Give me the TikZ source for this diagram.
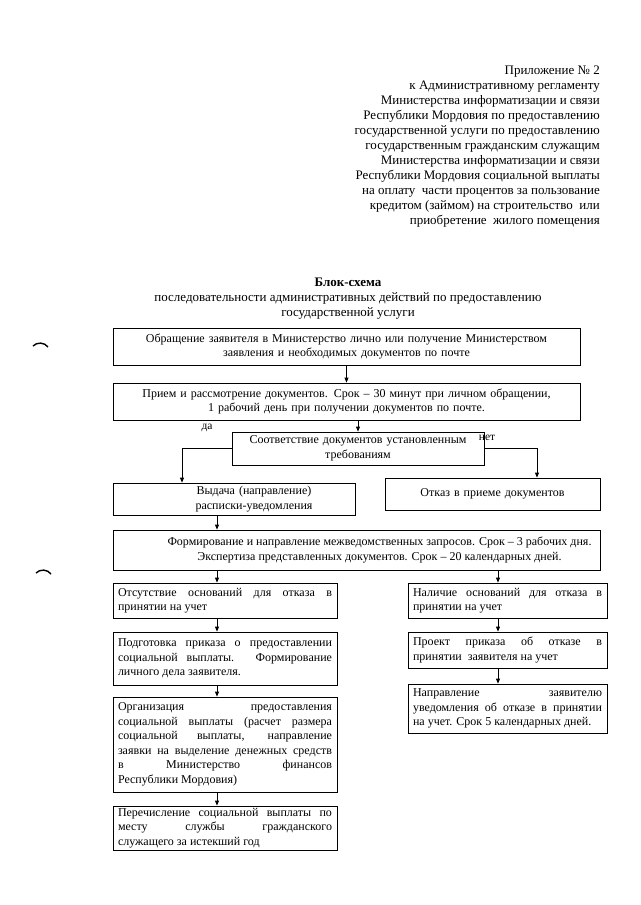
\documentclass[tikz,border=0pt]{standalone}
\usepackage{fontspec}
\setmainfont{Liberation Serif}
\usetikzlibrary{arrows.meta}
\hyphenpenalty=10000
\exhyphenpenalty=10000
\tikzset{
	blok/.style={draw, line width=0.8pt, inner xsep=5pt, inner ysep=2pt,
		font=\fontsize{12}{14.5}\selectfont},
	strelka/.style={line width=0.8pt, -{Triangle[length=5pt,width=4pt]}},
	liniya/.style={line width=0.8pt}
}

\begin{document}
\begin{tikzpicture}[x=1pt, y=-1pt]
	\useasboundingbox (0,0) rectangle (640,905);

	\node[anchor=north east, align=right, inner sep=0pt,
		font=\fontsize{13}{15}\selectfont] (prilozh) at (600,66)
		{Приложение № 2\\
		к Административному регламенту\\
		Министерства информатизации и связи\\
		Республики Мордовия по предоставлению\\
		государственной услуги по предоставлению\\
		государственным гражданским служащим\\
		Министерства информатизации и связи\\
		Республики Мордовия социальной выплаты\\
		на оплату\ \ части процентов за пользование\\
		кредитом (займом) на строительство\ \ или\\
		приобретение\ \ жилого помещения};

	\node[anchor=north, align=center, inner sep=0pt,
		font=\fontsize{13}{15}\selectfont] (zagolovok) at (348,278)
		{\textbf{Блок-схема}\\
		последовательности административных действий по предоставлению\\
		государственной услуги};

	\node[blok, text width=457, minimum height=37, align=center] (obr) at (346.5,346.5)
		{Обращение заявителя в Министерство лично или получение Министерством\\
		заявления и необходимых документов по почте};

	\node[blok, text width=457, minimum height=37, align=center] (priem) at (346.5,401.5)
		{Прием и рассмотрение документов. Срок -- 30 минут при личном обращении,\\
		1 рабочий день при получении документов по почте.};

	\node[blok, text width=242, minimum height=33, align=center] (sootv) at (358,448.5)
		{Соответствие документов установленным\\
		требованиям};

	\node[blok, text width=232, minimum height=32, align=center] (vydacha) at (234,499)
		{\hspace*{40pt}Выдача (направление)\\
		\hspace*{40pt}расписки-уведомления};

	\node[blok, text width=205, minimum height=32, align=center] (otkaz) at (492.5,494)
		{Отказ в приеме документов};

	\node[blok, minimum width=487, minimum height=40, align=center] (form) at (356.5,550)
		{\hspace*{46pt}Формирование и направление межведомственных запросов. Срок -- 3 рабочих дня.\\
		\hspace*{46pt}Экспертиза представленных документов. Срок -- 20 календарных дней.};

	\node[blok, text width=214, minimum height=35, align=justify] (otsut) at (225,600.5)
		{Отсутствие оснований для отказа в\linebreak
		принятии на учет};

	\node[blok, text width=189, minimum height=35, align=justify] (nalich) at (507.5,600.5)
		{Наличие оснований для отказа в\linebreak
		принятии на учет};

	\node[blok, text width=214, minimum height=53, align=justify] (podg) at (225,658.5)
		{Подготовка приказа о предоставлении\linebreak
		социальной выплаты. Формирование\linebreak
		личного дела заявителя.};

	\node[blok, text width=189, minimum height=36, align=justify] (proekt) at (507.5,650)
		{Проект приказа об отказе в\linebreak
		принятии\ \ заявителя на учет};

	\node[blok, text width=189, minimum height=49, align=justify] (naprav) at (507.5,708.5)
		{Направление заявителю\linebreak
		уведомления об отказе в принятии\linebreak
		на учет. Срок 5 календарных дней.};

	\node[blok, text width=214, minimum height=95, align=justify] (org) at (225,744.5)
		{Организация предоставления\linebreak
		социальной выплаты (расчет размера\linebreak
		социальной выплаты, направление\linebreak
		заявки на выделение денежных средств\linebreak
		в Министерство финансов\linebreak
		Республики Мордовия)};

	\node[blok, text width=214, minimum height=44, align=justify] (perech) at (225,828)
		{Перечисление социальной выплаты по\linebreak
		месту службы гражданского\linebreak
		служащего за истекший год};

	\coordinate (lev) at (217,0);
	\coordinate (prav) at (498,0);
	\coordinate (vlevo) at (182,0);
	\coordinate (vpravo) at (537,0);

	\draw[strelka] (obr.south) -- (priem.north);
	\draw[strelka] (priem.south -| sootv.north) -- (sootv.north);
	\draw[strelka] (sootv.west) -| (vydacha.north -| vlevo);
	\draw[strelka] (sootv.east) -| (otkaz.north -| vpravo);
	\node[inner sep=1pt, font=\fontsize{11.5}{13}\selectfont] (da) at (207,428) {да};
	\node[inner sep=1pt, font=\fontsize{11.5}{13}\selectfont] (net) at (487,438) {нет};

	\draw[strelka] (vydacha.south -| lev) -- (form.north -| lev);
	\draw[strelka] (form.south -| lev) -- (otsut.north -| lev);
	\draw[strelka] (form.south -| prav) -- (nalich.north -| prav);
	\draw[strelka] (otsut.south -| lev) -- (podg.north -| lev);
	\draw[strelka] (podg.south -| lev) -- (org.north -| lev);
	\draw[strelka] (org.south -| lev) -- (perech.north -| lev);
	\draw[strelka] (nalich.south -| prav) -- (proekt.north -| prav);
	\draw[strelka] (proekt.south -| prav) -- (naprav.north -| prav);

	\draw[liniya, line width=1.4pt] (33,346) to[bend left=50] (48,347);
	\draw[liniya, line width=1.4pt] (36,573) to[bend left=50] (51,574);

\end{tikzpicture}
\end{document}
